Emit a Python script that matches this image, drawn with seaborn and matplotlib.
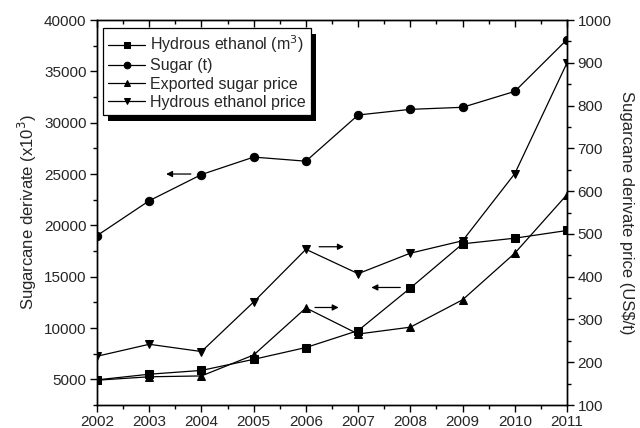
import numpy as np
import pandas as pd
import matplotlib
matplotlib.use("Agg")
import matplotlib.pyplot as plt
from matplotlib.patches import Rectangle
import seaborn as sns

# data
years = [2002, 2003, 2004, 2005, 2006, 2007, 2008, 2009, 2010, 2011]
ethanol_m3 = [4950, 5500, 5870, 6950, 8100, 9750, 13900, 18200, 18750, 19500]
sugar_t = [19000, 22400, 24950, 26650, 26250, 30750, 31300, 31500, 33050, 38100]
sugar_price = [158, 166, 168, 217, 327, 266, 282, 346, 455, 592]
ethanol_price = [214, 242, 225, 341, 464, 407, 455, 484, 641, 900]

sns.set_theme(style="ticks")
plt.rcParams["font.family"] = ["Liberation Sans", "DejaVu Sans"]

df = pd.DataFrame({
    "year": years,
    "ethanol": ethanol_m3,
    "sugar": sugar_t,
    "sugar_price": sugar_price,
    "ethanol_price": ethanol_price,
})

fig = plt.figure(figsize=(6.4, 4.28), dpi=100)
ax = fig.add_axes([0.1516, 0.0537, 0.7344, 0.8995])
ax2 = ax.twinx()

line_kw = dict(color="black", linewidth=0.9, markersize=6, markeredgecolor="black")

sns.lineplot(data=df, x="year", y="ethanol", ax=ax, marker="s", **line_kw)
sns.lineplot(data=df, x="year", y="sugar", ax=ax, marker="o", **line_kw)
sns.lineplot(data=df, x="year", y="sugar_price", ax=ax2, marker="^", **line_kw)
sns.lineplot(data=df, x="year", y="ethanol_price", ax=ax2, marker="v", **line_kw)

ax.set_xlim(2002, 2011)
ax.set_ylim(2500, 40000)
ax2.set_ylim(100, 1000)
ax.set_xticks(years)
ax.set_xticks(np.arange(2002, 2011.01, 0.5), minor=True)
ax.set_yticks(np.arange(5000, 40001, 5000))
ax.set_yticks(np.arange(2500, 40001, 2500), minor=True)
ax2.set_yticks(np.arange(100, 1001, 100))
ax2.set_yticks(np.arange(100, 1001, 50), minor=True)

ax.set_xlabel("")
ax.set_ylabel("Sugarcane derivate (x10$^3$)", fontsize=12, labelpad=4)
ax2.set_ylabel("Sugarcane derivate price (US$/t)", fontsize=12, rotation=270, labelpad=16)

ax.tick_params(axis="both", which="major", labelsize=11, length=5, width=1, direction="out", color="black", pad=2.5)
ax.tick_params(axis="both", which="minor", length=3, width=1, direction="out", color="black")
ax.tick_params(axis="x", which="both", top=True)
ax2.tick_params(axis="y", which="major", labelsize=11, length=5, width=1, direction="out", color="black", pad=2.5)
ax2.tick_params(axis="y", which="minor", length=3, width=1, direction="out", color="black")
for a in (ax, ax2):
    for s in a.spines.values():
        s.set_linewidth(1)
        s.set_color("black")
# top ticks point inward
for t in ax.xaxis.get_majorticklines()[1::2] + ax.xaxis.get_minorticklines()[1::2]:
    t.set_marker(matplotlib.lines.TICKDOWN)

# arrows showing which axis each series belongs to
arrow = dict(arrowstyle="-|>", color="black", lw=0.9, mutation_scale=9)
ax.annotate("", xy=(2003.27, 25000), xytext=(2003.85, 25000), arrowprops=arrow)
ax.annotate("", xy=(2007.2, 13950), xytext=(2007.86, 13950), arrowprops=arrow)
ax2.annotate("", xy=(2006.78, 470), xytext=(2006.2, 470), arrowprops=arrow)
ax2.annotate("", xy=(2006.68, 328), xytext=(2006.12, 328), arrowprops=arrow)

handles = ax.get_lines()[:2] + ax2.get_lines()[:2]
labels = ["Hydrous ethanol (m$^3$)", "Sugar (t)", "Exported sugar price", "Hydrous ethanol price"]
leg = ax2.legend(handles, labels, loc="upper left", bbox_to_anchor=(0.005, 0.988),
                 fontsize=11.5, frameon=True, fancybox=False, markerscale=0.8,
                 framealpha=1, facecolor="white",
                 handlelength=2.3, handletextpad=0.3, labelspacing=0.2,
                 borderpad=0.35, borderaxespad=0.2)
leg.get_frame().set_edgecolor("black")
leg.get_frame().set_linewidth(0.9)
leg.set_zorder(10)

# solid black drop shadow behind the legend box
fig.canvas.draw()
bb = leg.get_window_extent()
shadow = Rectangle((bb.x0 + 5, bb.y0 - 6), bb.width, bb.height, transform=None,
                   facecolor="black", edgecolor="none", zorder=9)
ax2.add_artist(shadow)

plt.savefig("out.png", dpi=100)
